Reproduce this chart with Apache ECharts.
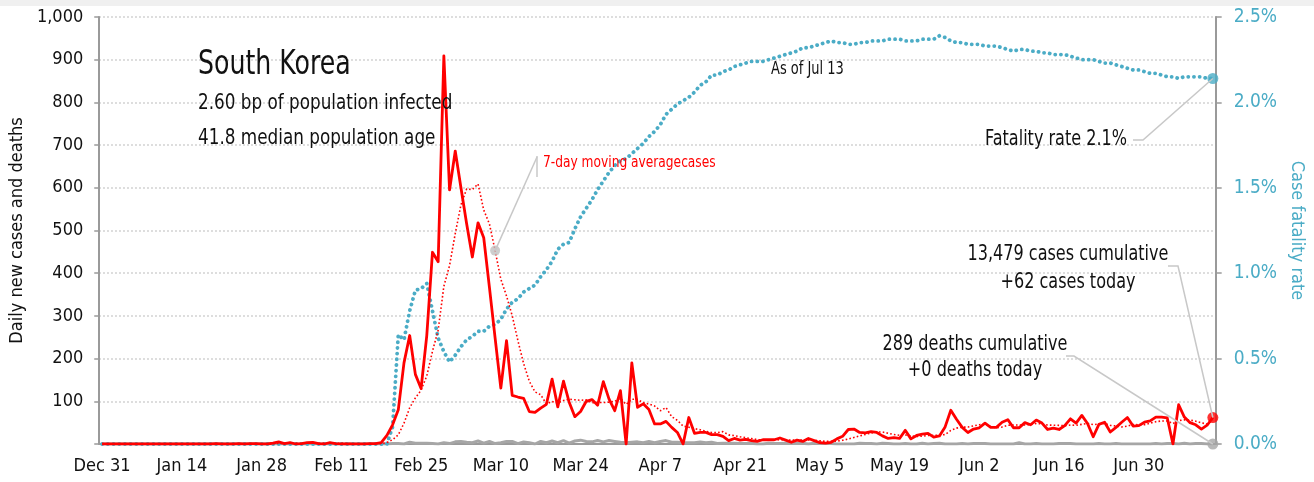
<!DOCTYPE html>
<html>
<head>
<meta charset="utf-8">
<script src="https://cdn.jsdelivr.net/npm/echarts@6/dist/echarts.min.js"></script>
<style>
  html, body { margin: 0; padding: 0; background: #fff; }
  #main { width: 1314px; height: 482px; }
</style>
</head>
<body>
<div id="main"></div>
<script>
// South Korea, daily cases / deaths and case fatality rate, Dec 31 – Jul 13

const MONTHS = ['Jan', 'Feb', 'Mar', 'Apr', 'May', 'Jun', 'Jul', 'Aug', 'Sep', 'Oct', 'Nov', 'Dec']
const START = Date.UTC(2019, 11, 31)
const DAYS = 196

// daily new cases, one per day from Dec 31
const cases = [
  0, 0, 0, 0, 0, 0, 0, 0, 0, 0, 0, 0, 0, 0, 0, 0, 0, 0, 0, 0,
  1, 0, 0, 0, 1, 0, 1, 1, 0, 0,
  2, 5, 1, 3, 0, 1, 3, 4, 1, 0,
  3, 1, 0, 0, 0, 0, 0, 1, 1, 3,
  20, 45, 80, 190, 254, 163, 130, 254, 449, 427,
  909, 595, 686, 600, 516, 438, 518, 483, 367, 248,
  131, 242, 114, 110, 107, 76, 74, 84, 93, 152,
  87, 147, 98, 64, 76, 100, 104, 91, 146, 105,
  78, 125, 0, 190, 86, 94, 81, 47, 47, 53,
  39, 27, 0, 62, 25, 27, 27, 22, 22, 18,
  8, 13, 9, 11, 8, 6, 10, 10, 10, 14,
  9, 4, 9, 6, 13, 8, 3, 2, 4, 12,
  18, 34, 35, 27, 26, 29, 27, 19, 13, 15,
  13, 32, 12, 20, 23, 25, 16, 19, 40, 79,
  58, 39, 27, 35, 38, 49, 39, 39, 51, 57,
  38, 38, 50, 45, 56, 49, 34, 37, 34, 43,
  59, 49, 67, 48, 17, 46, 51, 28, 39, 51,
  62, 42, 43, 51, 54, 63, 63, 61, 0, 92,
  63, 50, 45, 35, 44, 62
]

// 7-day moving average of cases, as drawn
const avg7 = [
  0, 0, 0, 0, 0, 0, 0, 0, 0, 0, 0, 0, 0, 0, 0, 0, 0, 0, 0, 0,
  0.1, 0.1, 0.1, 0.1, 0.3, 0.3, 0.4, 0.4, 0.4, 0.4,
  0.7, 1.3, 1.4, 1.7, 1.6, 1.7, 2.1, 2.4, 1.9, 1.7,
  1.7, 1.9, 1.7, 1.3, 0.7, 0.6, 0.6, 0.3, 0.3, 0.7,
  3.6, 10, 21.4, 48.6, 84.9, 107.9, 126, 159.4, 217.1, 266.7,
  369.4, 418.1, 492.9, 560, 597.4, 595.9, 608.9, 548, 515.4, 452.9,
  385.9, 346.7, 300.4, 242.1, 188.4, 146.9, 122, 115.3, 94, 99.4,
  96.1, 101.9, 105, 103.6, 102.4, 103.4, 96.6, 97.1, 97, 98,
  100, 107, 92.7, 105, 104.3, 96.9, 93.4, 89, 77.9, 85.4,
  63.9, 55.4, 42, 39.3, 36.1, 33.3, 29.6, 27.1, 26.4, 29,
  21.3, 19.6, 17, 14.7, 12.7, 10.4, 9.3, 9.6, 9.1, 9.9,
  9.6, 9, 9.4, 8.9, 9.3, 9, 7.4, 6.4, 6.4, 6.9,
  8.6, 11.6, 15.4, 18.9, 22.3, 25.9, 28, 28.1, 25.1, 22.3,
  20.3, 21.1, 18.7, 17.7, 18.3, 20, 20.1, 21, 22.1, 31.7,
  37.1, 39.4, 39.7, 42.4, 45.1, 46.4, 40.7, 38, 39.7, 44,
  44.4, 44.4, 44.6, 45.4, 47.9, 47.6, 44.3, 44.1, 43.6, 42.6,
  44.6, 43.6, 46.1, 48.1, 45.3, 47, 48.1, 43.7, 42.3, 40,
  42, 45.6, 45.1, 45.1, 48.9, 52.3, 54, 53.9, 47.9, 54.9,
  56.6, 56, 53.4, 49.4, 47, 55.9
]

// daily new deaths
const deaths = [
  0, 0, 0, 0, 0, 0, 0, 0, 0, 0, 0, 0, 0, 0, 0, 0, 0, 0, 0, 0,
  0, 0, 0, 0, 0, 0, 0, 0, 0, 0, 0, 0, 0, 0, 0, 0, 0, 0, 0, 0,
  0, 0, 0, 0, 0, 0, 0, 0, 0, 0, 0,
  1, 1, 0, 4, 2, 2, 2, 1, 0,
  3, 1, 5, 6, 4, 3, 7, 2, 6, 1,
  3, 6, 6, 1, 5, 3, 0, 6, 3, 7,
  3, 8, 2, 7, 9, 6, 5, 8, 5, 8,
  6, 4, 3, 4, 5, 3, 6, 3, 6, 8,
  4, 4, 3, 3, 3, 5, 3, 4, 1, 2,
  2, 2, 1, 1, 2, 0, 0, 2, 1, 1,
  2, 1, 1, 2, 0, 2, 2, 1, 1, 0,
  0, 0, 0, 2, 1, 1, 0, 2, 1, 0,
  0, 1, 0, 0, 2, 0, 1, 2, 0, 0,
  0, 1, 0, 1, 1, 1, 0, 0, 0, 0,
  0, 3, 0, 0, 1, 0, 0, 0, 1, 1,
  1, 0, 0, 0, 0, 1, 0, 0, 1, 0,
  0, 0, 0, 0, 0, 1, 0, 1, 1, 0,
  2, 0, 1, 1, 0, 0
]

// case fatality rate, percent
const cfr = [
  0, 0, 0, 0, 0, 0, 0, 0, 0, 0, 0, 0, 0, 0, 0, 0, 0, 0, 0, 0,
  0, 0, 0, 0, 0, 0, 0, 0, 0, 0, 0, 0, 0, 0, 0, 0, 0, 0, 0, 0,
  0, 0, 0, 0, 0, 0, 0, 0, 0, 0, 0,
  0.1, 0.64, 0.61, 0.78, 0.90, 0.91, 0.94, 0.78, 0.62,
  0.54, 0.48, 0.52, 0.57, 0.61, 0.63, 0.66, 0.66, 0.69, 0.70,
  0.73, 0.79, 0.83, 0.85, 0.89, 0.91, 0.93, 0.98, 1.02, 1.07,
  1.14, 1.17, 1.18, 1.26, 1.33, 1.38, 1.43, 1.49, 1.54, 1.59,
  1.63, 1.66, 1.67, 1.70, 1.73, 1.76, 1.80, 1.83, 1.87, 1.93,
  1.96, 1.99, 2.01, 2.03, 2.06, 2.10, 2.12, 2.16, 2.16, 2.18,
  2.19, 2.21, 2.22, 2.23, 2.24, 2.24, 2.24, 2.25, 2.26, 2.27,
  2.28, 2.29, 2.30, 2.32, 2.32, 2.33, 2.34, 2.35, 2.36, 2.35,
  2.35, 2.34, 2.34, 2.35, 2.35, 2.36, 2.36, 2.36, 2.37, 2.37,
  2.37, 2.36, 2.36, 2.36, 2.37, 2.37, 2.37, 2.39, 2.38, 2.36,
  2.35, 2.35, 2.34, 2.34, 2.34, 2.33, 2.33, 2.33, 2.32, 2.31,
  2.30, 2.31, 2.31, 2.30, 2.30, 2.29, 2.29, 2.28, 2.28, 2.28,
  2.27, 2.26, 2.25, 2.25, 2.25, 2.24, 2.23, 2.23, 2.22, 2.21,
  2.20, 2.19, 2.19, 2.18, 2.17, 2.17, 2.16, 2.15, 2.15, 2.14,
  2.15, 2.15, 2.15, 2.15, 2.14, 2.14
]

const caseTicks = [0, 100, 200, 300, 400, 500, 600, 700, 800, 900, 1000]
const rateTicks = [0, 0.5, 1, 1.5, 2, 2.5]
const AVG_NOTE_DAY = 69 // where the "7-day moving average" callout points

const categories = []
for (let i = 0; i < DAYS; i++) {
  const d = new Date(START + i * 86400000)
  categories.push(MONTHS[d.getUTCMonth()] + ' ' + d.getUTCDate())
}
const last = DAYS - 1

const F = "'Liberation Sans Narrow', 'DejaVu Sans Condensed', 'Noto Sans', sans-serif"
const RED = '#ff0000'
const TEAL = '#4bacc6'
const GREY = '#a6a6a6'
const AXIS = '#9a9a9a'
const NARROW = 0.85 // squeeze callout text to look like the narrow face of the original

const chart = echarts.init(document.getElementById('main'), null, { renderer: 'canvas' })

const option = {
  animation: false,
  backgroundColor: '#ffffff',
  grid: { left: 94, right: 90, top: 17, bottom: 38 },
  xAxis: {
    type: 'category',
    data: categories,
    boundaryGap: true,
    axisLine: { lineStyle: { color: AXIS, width: 2 } },
    axisTick: { interval: i => i % 14 === 0, length: 6, lineStyle: { color: AXIS, width: 1.5 } },
    axisLabel: { interval: i => i % 14 === 0, color: '#111', fontSize: 18, fontFamily: F, margin: 13 },
    splitLine: { show: false }
  },
  yAxis: [
    {
      type: 'value',
      min: caseTicks[0],
      max: caseTicks[caseTicks.length - 1],
      interval: caseTicks[1] - caseTicks[0],
      name: 'Daily new cases and deaths',
      nameLocation: 'middle',
      nameGap: 72,
      nameRotate: 90,
      nameTextStyle: { color: '#111', fontSize: 18, fontFamily: F },
      axisLine: { show: true, lineStyle: { color: AXIS, width: 2 } },
      axisTick: { show: true, length: 5, lineStyle: { color: AXIS, width: 1.5 } },
      axisLabel: {
        color: '#111', fontSize: 18, fontFamily: F, margin: 16,
        formatter: v => (v === 0 ? '' : v.toLocaleString('en-US'))
      },
      splitLine: { lineStyle: { color: '#c4c4c4', width: 1.5, type: [1.5, 2.5] } }
    },
    {
      type: 'value',
      position: 'right',
      min: rateTicks[0],
      max: rateTicks[rateTicks.length - 1],
      interval: rateTicks[1] - rateTicks[0],
      name: 'Case fatality rate',
      nameLocation: 'middle',
      nameGap: 68,
      nameRotate: -90,
      nameTextStyle: { color: TEAL, fontSize: 18, fontFamily: F },
      axisLine: { show: true, lineStyle: { color: AXIS, width: 2 } },
      axisTick: { show: true, length: 6, lineStyle: { color: AXIS, width: 1.5 } },
      axisLabel: { color: TEAL, fontSize: 19, fontFamily: F, margin: 18, formatter: v => v.toFixed(1) + '%' },
      splitLine: { show: false }
    }
  ],
  series: [
    {
      name: 'deaths', type: 'line', data: deaths, symbol: 'none', z: 2,
      lineStyle: { color: GREY, width: 3 }
    },
    {
      name: 'cfr', type: 'line', yAxisIndex: 1, data: cfr, symbol: 'none', z: 3,
      lineStyle: { color: TEAL, width: 3.8, type: [0.1, 5.6], cap: 'round' }
    },
    {
      name: 'avg', type: 'line', data: avg7, symbol: 'none', z: 4,
      lineStyle: { color: RED, width: 1.6, type: [1.6, 2.2] }
    },
    {
      name: 'cases', type: 'line', data: cases, symbol: 'none', z: 5,
      lineStyle: { color: RED, width: 2.8, join: 'round' }
    },
    {
      type: 'scatter', symbolSize: 11, z: 6, silent: true,
      data: [
        { value: [last, deaths[last]], itemStyle: { color: GREY } },
        { value: [last, cases[last]], itemStyle: { color: RED } },
        { value: [AVG_NOTE_DAY, avg7[AVG_NOTE_DAY]], symbolSize: 10, itemStyle: { color: '#c0c0c0' } }
      ]
    },
    {
      type: 'scatter', yAxisIndex: 1, symbolSize: 11, z: 6, silent: true,
      data: [{ value: [last, cfr[last]], itemStyle: { color: TEAL } }]
    }
  ]
}

chart.setOption(option)

// callouts: text placed by hand, leader lines end on the data points
const pCase = chart.convertToPixel({ xAxisIndex: 0, yAxisIndex: 0 }, [last, cases[last]])
const pDeath = chart.convertToPixel({ xAxisIndex: 0, yAxisIndex: 0 }, [last, deaths[last]])
const pRate = chart.convertToPixel({ xAxisIndex: 0, yAxisIndex: 1 }, [last, cfr[last]])
const pAvg = chart.convertToPixel({ xAxisIndex: 0, yAxisIndex: 0 }, [AVG_NOTE_DAY, avg7[AVG_NOTE_DAY]])

function label(text, x, y, size, opts) {
  return {
    type: 'text', x: x, y: y, scaleX: NARROW, silent: true, z: 20,
    style: Object.assign({
      text: text, fontSize: size, fontFamily: F, fill: '#111',
      align: 'left', verticalAlign: 'middle'
    }, opts || {})
  }
}
function leader(points) {
  return {
    type: 'polyline', silent: true, z: 10,
    shape: { points: points },
    style: { stroke: '#c8c8c8', lineWidth: 1.5, fill: null }
  }
}

chart.setOption({
  graphic: [
    { type: 'rect', shape: { x: 0, y: 0, width: 1314, height: 6 }, style: { fill: '#f0f0f0' }, silent: true },
    label('South Korea', 198, 65, 33),
    label('2.60 bp of population infected', 198, 103, 22),
    label('41.8 median population age', 198, 138, 22),
    label('As of Jul 13', 771, 70, 17),
    label('7-day moving averagecases', 543, 163, 16, { fill: RED }),
    leader([[pAvg[0], pAvg[1]], [537, 157]]),
    leader([[537, 156], [537, 177]]),
    label('Fatality rate 2.1%', 1127, 140, 21, { align: 'right' }),
    leader([[1133, 140], [1143, 140], [pRate[0], pRate[1]]]),
    label('13,479 cases cumulative', 1068, 255, 21, { align: 'center' }),
    label('+62 cases today', 1068, 283, 21, { align: 'center' }),
    leader([[1168, 266], [1178, 266], [pCase[0], pCase[1]]]),
    label('289 deaths cumulative', 975, 345, 21, { align: 'center' }),
    label('+0 deaths today', 975, 371, 21, { align: 'center' }),
    leader([[1066, 356], [1074, 356], [pDeath[0], pDeath[1]]])
  ]
})
</script>
</body>
</html>
